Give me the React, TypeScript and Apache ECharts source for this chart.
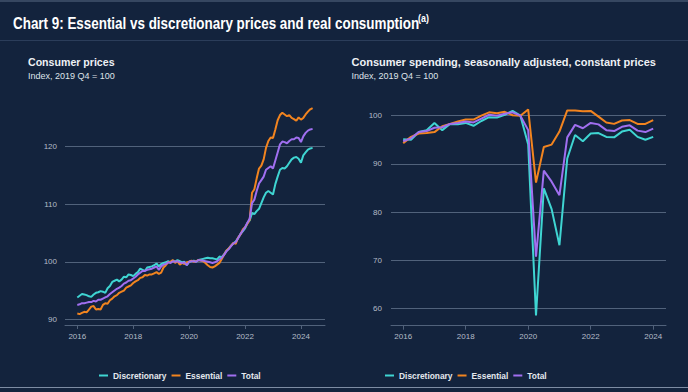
import React, { useEffect, useRef } from 'react';
import * as echarts from 'echarts';

// ---- data ----
const SERIES_NAMES = ['Discretionary', 'Essential', 'Total'];

// Consumer prices, monthly, Jan 2016 .. Jun 2024 (Index, 2019 Q4 = 100)
const CPI_FIRST_YEAR = 2016;
const cpiDiscretionary = [
  93.8, 94.1, 94.4, 94.3, 94.2, 94.0, 93.9, 94.3, 94.6, 94.7, 94.9, 94.8,
  94.6, 95.4, 95.8, 96.5, 96.7, 96.9, 96.6, 96.9, 97.4, 97.3, 97.8, 97.7,
  97.5, 97.9, 98.2, 98.8, 98.6, 98.4, 99.0, 99.1, 99.2, 99.4, 99.7, 99.2,
  99.6, 99.8, 99.9, 100.1, 99.9, 100.2, 100.0, 100.3, 100.1, 99.9, 100.0, 99.4,
  100.0, 100.1, 100.2, 100.0, 100.3, 100.4, 100.5, 100.6, 100.7, 100.6, 100.6, 100.5,
  100.4, 100.9, 100.8, 101.3, 101.9, 102.3, 102.8, 103.2, 103.5, 104.1, 104.8, 105.3,
  105.8, 106.7, 107.2, 108.5, 108.3, 108.8, 109.2, 110.2, 111.2, 112.0, 112.3, 112.0,
  111.7, 113.5, 114.8, 116.0, 116.3, 116.2, 116.6, 117.2, 117.8, 118.1, 118.2, 117.9,
  117.2, 118.5, 119.0, 119.5, 119.7, 119.8,
];
const cpiEssential = [
  91.0, 90.9, 91.1, 91.3, 91.2, 91.7, 92.2, 92.3, 91.7, 91.8, 91.7, 92.5,
  92.8, 92.7, 93.3, 93.6, 94.0, 94.2, 94.6, 94.8, 95.0, 95.5, 95.7, 95.9,
  96.3, 96.6, 96.8, 97.2, 97.3, 97.7, 97.6, 97.8, 97.8, 98.0, 98.2, 97.9,
  98.1, 99.0, 99.4, 99.9, 100.0, 100.3, 99.8, 100.1, 99.5, 99.8, 99.6, 99.9,
  100.0, 100.2, 100.0, 100.1, 100.3, 100.2, 100.1, 99.8, 99.4, 99.1, 99.0, 99.2,
  99.5, 99.8, 100.5, 101.2, 101.9, 102.3, 102.8, 103.3, 103.1, 104.2, 104.7, 105.6,
  106.0, 106.6, 107.3, 112.0, 112.6, 114.5, 116.2, 116.7, 117.8, 119.8, 121.0, 121.6,
  121.5, 123.0, 124.6, 125.5, 125.9, 125.6, 125.3, 125.5, 125.0, 124.8, 124.5, 125.1,
  124.7, 125.0, 125.6, 126.1, 126.5, 126.7,
];
const cpiTotal = [
  92.5, 92.6, 92.8, 92.8, 92.9, 93.0, 93.0, 93.2, 93.1, 93.4, 93.4, 93.6,
  93.8, 94.0, 94.4, 94.7, 95.0, 95.3, 95.5, 95.8, 96.2, 96.4, 96.7, 96.8,
  97.1, 97.4, 97.8, 98.1, 98.4, 98.4, 98.6, 98.7, 98.8, 99.0, 99.2, 98.6,
  99.2, 99.5, 99.6, 99.9, 99.8, 100.1, 100.0, 100.1, 99.9, 99.8, 99.9, 99.4,
  100.0, 100.1, 100.1, 100.0, 100.3, 100.2, 100.2, 100.1, 100.0, 99.9, 99.8, 99.9,
  100.1, 100.4, 100.7, 101.2, 101.8, 102.2, 102.7, 103.2, 103.4, 104.1, 104.8, 105.4,
  106.0, 106.8, 107.5, 110.2, 110.8, 112.3, 113.6, 114.2, 114.8, 116.0, 116.3, 116.6,
  116.2, 117.6, 119.0, 120.4, 120.9, 120.8, 120.6, 121.0, 121.3, 121.3, 121.6, 121.5,
  120.8, 121.8, 122.4, 122.8, 123.0, 123.1,
];

// Consumer spending, quarterly, 2016 Q1 .. 2024 Q1 (Index, 2019 Q4 = 100)
const SPEND_FIRST_YEAR = 2016;
const spendDiscretionary = [
  95.1, 95.0, 96.6, 97.0, 98.5, 97.0, 98.3, 98.2, 98.5, 97.9, 98.9, 99.7,
  99.6, 100.2, 101.0, 100.0, 94.0, 58.5, 84.9, 80.6, 73.1, 91.1, 96.0, 94.7,
  96.3, 96.4, 95.6, 95.5, 96.7, 97.1, 95.6, 95.0, 95.6,
];
const spendEssential = [
  94.3, 95.6, 96.3, 96.4, 96.6, 97.8, 98.3, 98.8, 99.2, 99.2, 100.0, 100.7,
  100.5, 100.8, 100.1, 100.0, 101.3, 86.1, 93.5, 94.0, 96.7, 101.1, 101.1, 100.9,
  101.0, 99.8, 98.6, 98.3, 99.0, 99.1, 98.3, 98.3, 99.1,
];
const spendTotal = [
  94.7, 95.3, 96.6, 96.8, 97.5, 97.6, 98.3, 98.5, 98.8, 98.6, 99.4, 100.2,
  100.0, 100.4, 100.7, 100.0, 97.0, 70.7, 88.6, 86.3, 83.5, 95.5, 98.1, 97.4,
  98.5, 98.2, 97.0, 96.8, 97.7, 98.0, 96.9, 96.6, 97.3,
];

const X_TICKS = [2016, 2018, 2020, 2022, 2024];

// ---- style ----
const BG = '#13233d';
const COLORS = ['#3fd5d2', '#f2841f', '#a06ff0'];
const GRID_COLOR = '#51627b';
const AXIS_TEXT = '#b3bcc8';
const SANS = "'Liberation Sans', Arial, sans-serif";

const monthly = (arr: number[]) => arr.map((v, i) => [CPI_FIRST_YEAR + i / 12, v]);
const quarterly = (arr: number[]) => arr.map((v, i) => [SPEND_FIRST_YEAR + i / 4, v]);

function xAxisCfg(gridIndex: number, min: number, max: number, offset: number) {
  return {
    type: 'value' as const,
    gridIndex,
    min,
    max,
    offset,
    axisLine: { show: true, onZero: false, lineStyle: { color: GRID_COLOR, width: 1 } },
    axisTick: { show: true, customValues: X_TICKS, length: 4, lineStyle: { color: GRID_COLOR } },
    axisLabel: {
      customValues: X_TICKS,
      formatter: (v: number) => String(Math.round(v)),
      color: AXIS_TEXT,
      fontSize: 8,
      fontFamily: SANS,
      margin: 7,
    },
    splitLine: { show: false },
  };
}

function yAxisCfg(gridIndex: number, min: number, max: number, margin: number) {
  return {
    type: 'value' as const,
    gridIndex,
    min,
    max,
    interval: 10,
    axisLine: { show: false },
    axisTick: { show: false },
    axisLabel: { color: AXIS_TEXT, fontSize: 8, fontFamily: SANS, margin },
    splitLine: { show: true, lineStyle: { color: GRID_COLOR, width: 1 } },
  };
}

function line(name: string, color: string, data: number[][], idx: number) {
  return {
    type: 'line' as const,
    name,
    xAxisIndex: idx,
    yAxisIndex: idx,
    data,
    showSymbol: false,
    clip: false,
    lineStyle: { color, width: 2 },
    itemStyle: { color },
  };
}

function legendCfg(left: number) {
  return {
    data: SERIES_NAMES,
    left,
    top: 371.5,
    padding: 0,
    icon: 'rect',
    itemWidth: 9,
    itemHeight: 2,
    itemGap: 5,
    selectedMode: false,
    textStyle: { color: '#e4e8ee', fontSize: 8.4, fontWeight: 'bold' as const, fontFamily: SANS },
  };
}

export default function App() {
  const ref = useRef<HTMLDivElement>(null);
  useEffect(() => {
    if (!ref.current) return;
    const chart = echarts.init(ref.current, undefined, { renderer: 'svg' });
    const cpiSets = [cpiDiscretionary, cpiEssential, cpiTotal];
    const spendSets = [spendDiscretionary, spendEssential, spendTotal];
    chart.setOption({
      animation: false,
      backgroundColor: BG,
      grid: [
        { left: 65, top: 146.7, width: 260, height: 172.6 },
        { left: 391, top: 115.7, width: 275, height: 192.6 },
      ],
      xAxis: [xAxisCfg(0, 2015.56, 2024.86, 5.7), xAxisCfg(1, 2015.61, 2024.41, 17.4)],
      yAxis: [yAxisCfg(0, 90, 120, 8), yAxisCfg(1, 60, 100, 9)],
      legend: [legendCfg(99), legendCfg(385)],
      series: [
        ...SERIES_NAMES.map((n, k) => line(n, COLORS[k], monthly(cpiSets[k]), 0)),
        ...SERIES_NAMES.map((n, k) => line(n, COLORS[k], quarterly(spendSets[k]), 1)),
      ],
      graphic: [
        { type: 'line', shape: { x1: 0, y1: 1, x2: 688, y2: 1 }, style: { stroke: '#5b6c86', lineWidth: 1 } },
        { type: 'line', shape: { x1: 0, y1: 40.5, x2: 688, y2: 40.5 }, style: { stroke: '#2b3d5a', lineWidth: 1 } },
        { type: 'line', shape: { x1: 0, y1: 387.5, x2: 688, y2: 387.5 }, style: { stroke: '#7d8ca3', lineWidth: 1 } },
        {
          type: 'text', x: 13, y: 23.3, scaleX: 0.79,
          style: { text: 'Chart 9: Essential vs discretionary prices and real consumption', font: `bold 17px ${SANS}`, fill: '#ffffff', verticalAlign: 'middle' },
        },
        {
          type: 'text', x: 418, y: 18.5, scaleX: 0.85,
          style: { text: '(a)', font: `bold 10.5px ${SANS}`, fill: '#ffffff', verticalAlign: 'middle' },
        },
        { type: 'text', x: 28, y: 62, style: { text: 'Consumer prices', font: `bold 10.6px ${SANS}`, fill: '#eef1f5', verticalAlign: 'middle' } },
        { type: 'text', x: 28, y: 75.5, style: { text: 'Index, 2019 Q4 = 100', font: `9px ${SANS}`, fill: '#dfe3ea', verticalAlign: 'middle' } },
        { type: 'text', x: 351.5, y: 62, style: { text: 'Consumer spending, seasonally adjusted, constant prices', font: `bold 11px ${SANS}`, fill: '#eef1f5', verticalAlign: 'middle' } },
        { type: 'text', x: 351.5, y: 75.5, style: { text: 'Index, 2019 Q4 = 100', font: `9px ${SANS}`, fill: '#dfe3ea', verticalAlign: 'middle' } },
      ],
    });
    return () => chart.dispose();
  }, []);
  return (
    <div
      ref={ref}
      style={{ position: 'absolute', left: 0, top: 0, width: 688, height: 392 }}
    />
  );
}
